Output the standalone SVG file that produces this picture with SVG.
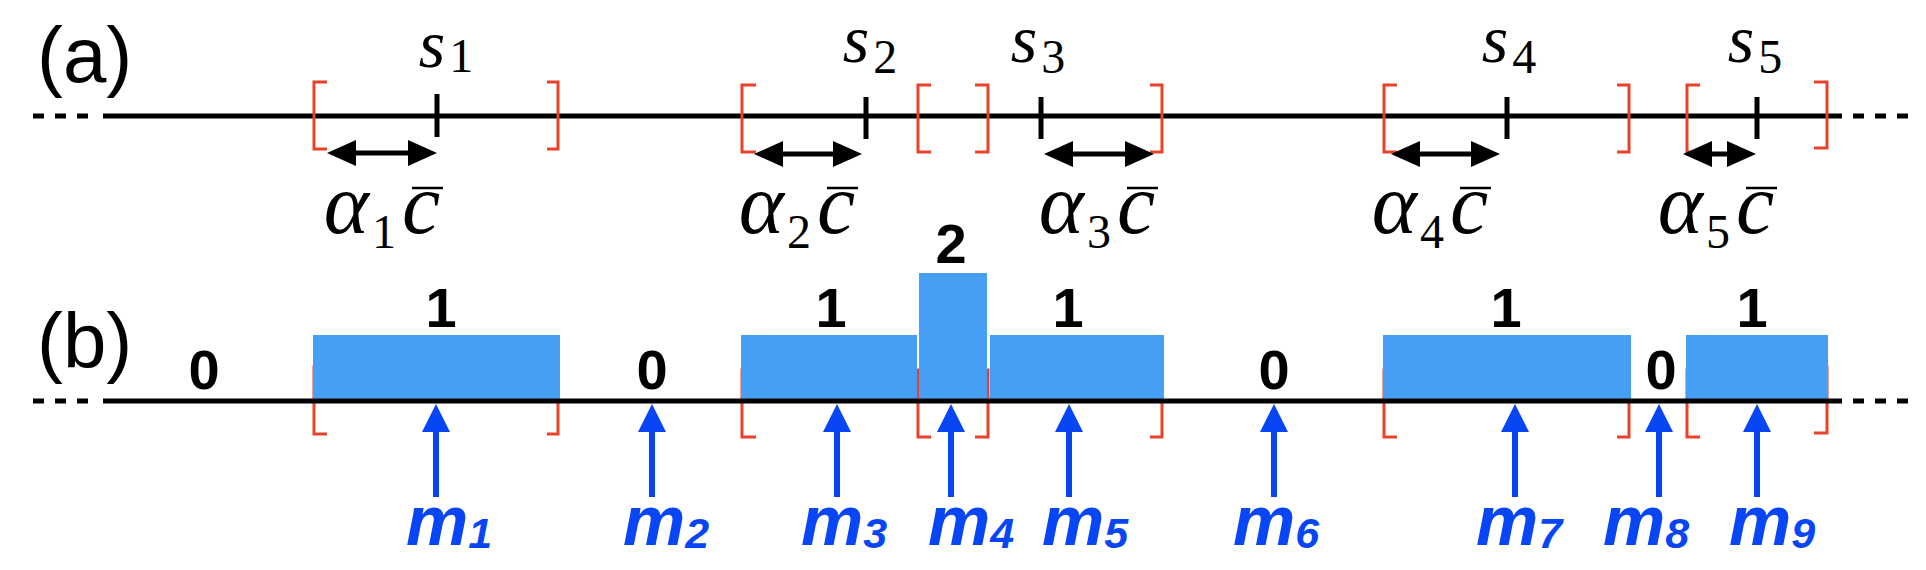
<svg xmlns="http://www.w3.org/2000/svg" width="1926" height="570" viewBox="0 0 1926 570">
<style>
.axis{stroke:#000;stroke-width:5;fill:none}
.dash{stroke:#000;stroke-width:5;stroke-dasharray:11 11;fill:none}
.tick{stroke:#000;stroke-width:5}
.br{stroke:#e8432a;stroke-width:3;fill:none}
.dbl{stroke:#000;stroke-width:5;marker-start:url(#ah);marker-end:url(#ah)}
.up{stroke:#0845f5;stroke-width:6;marker-end:url(#bh)}
.box{fill:#45a0f5}
.panel{font-family:"Liberation Sans",Arial,sans-serif;font-size:78px;fill:#000}
.s{font-family:"Liberation Serif","Times New Roman",serif;font-style:italic;font-size:68px;fill:#000}
.al{font-family:"Liberation Serif","Times New Roman",serif;font-style:italic;font-size:86px;fill:#000}
.sub{font-style:normal;font-size:48px}
.num{font-family:"Liberation Sans",Arial,sans-serif;font-weight:bold;font-size:56px;fill:#000;text-anchor:middle}
.m{font-family:"Liberation Sans",Arial,sans-serif;font-weight:bold;font-style:italic;font-size:70px;fill:#0845f5}
.msub{font-size:43px}
.bar{stroke:#000;stroke-width:2.5}
</style>
<defs>
<marker id="ah" markerUnits="userSpaceOnUse" markerWidth="30" markerHeight="28" viewBox="0 -14 30 28" refX="9" refY="0" orient="auto-start-reverse"><path d="M0,-13 L29,0 L0,13 z" fill="#000"/></marker>
<marker id="bh" markerUnits="userSpaceOnUse" markerWidth="30" markerHeight="30" viewBox="0 -15 30 30" refX="8" refY="0" orient="auto"><path d="M0,-14 L28,0 L0,14 z" fill="#0845f5"/></marker>
</defs>

<g id="panel-a">
  <text id="label-a" class="panel" x="37" y="82">(a)</text>
  <g id="axis-a">
    <line class="dash" x1="33" y1="116" x2="92" y2="116"/>
    <line class="axis" x1="103" y1="116" x2="1842" y2="116"/>
    <line class="dash" x1="1853" y1="116" x2="1908" y2="116"/>
  </g>
  <g id="node-s1">
    <path class="br" d="M327,82 H314 V149 H327"/>
    <path class="br" d="M547,82 H558 V149 H547"/>
    <line class="tick" x1="437" y1="94" x2="437" y2="137"/>
    <text class="s" x="446" y="67" text-anchor="middle">s<tspan class="sub" dx="4" dy="5">1</tspan></text>
    <text class="al" x="382" y="233" text-anchor="middle">α<tspan class="sub" dx="3" dy="15">1</tspan><tspan dx="6" dy="-15">c</tspan></text>
    <line class="bar" x1="412" y1="188" x2="443" y2="188"/>
  </g>
  <g id="node-s2">
    <path class="br" d="M756,85 H742 V152 H756"/>
    <path class="br" d="M975,85 H988 V152 H975"/>
    <line class="tick" x1="866" y1="97" x2="866" y2="139"/>
    <text class="s" x="870" y="62" text-anchor="middle">s<tspan class="sub" dx="4" dy="11">2</tspan></text>
    <text class="al" x="797" y="233" text-anchor="middle">α<tspan class="sub" dx="3" dy="15">2</tspan><tspan dx="6" dy="-15">c</tspan></text>
    <line class="bar" x1="827" y1="188" x2="858" y2="188"/>
  </g>
  <g id="node-s3">
    <path class="br" d="M931,85 H918 V152 H931"/>
    <path class="br" d="M1150,85 H1162 V152 H1150"/>
    <line class="tick" x1="1041" y1="97" x2="1041" y2="139"/>
    <text class="s" x="1038" y="62" text-anchor="middle">s<tspan class="sub" dx="4" dy="11">3</tspan></text>
    <text class="al" x="1097" y="233" text-anchor="middle">α<tspan class="sub" dx="3" dy="15">3</tspan><tspan dx="6" dy="-15">c</tspan></text>
    <line class="bar" x1="1127" y1="188" x2="1158" y2="188"/>
  </g>
  <g id="node-s4">
    <path class="br" d="M1397,85 H1384 V152 H1397"/>
    <path class="br" d="M1617,85 H1629 V152 H1617"/>
    <line class="tick" x1="1507" y1="97" x2="1507" y2="139"/>
    <text class="s" x="1509" y="62" text-anchor="middle">s<tspan class="sub" dx="4" dy="11">4</tspan></text>
    <text class="al" x="1430" y="233" text-anchor="middle">α<tspan class="sub" dx="3" dy="15">4</tspan><tspan dx="6" dy="-15">c</tspan></text>
    <line class="bar" x1="1460" y1="188" x2="1491" y2="188"/>
  </g>
  <g id="node-s5">
    <path class="br" d="M1700,85 H1687 V152 H1700"/>
    <path class="br" d="M1814,82 H1827 V148 H1814"/>
    <line class="tick" x1="1757" y1="97" x2="1757" y2="139"/>
    <text class="s" x="1755" y="62" text-anchor="middle">s<tspan class="sub" dx="4" dy="11">5</tspan></text>
    <text class="al" x="1716" y="233" text-anchor="middle">α<tspan class="sub" dx="3" dy="15">5</tspan><tspan dx="6" dy="-15">c</tspan></text>
    <line class="bar" x1="1746" y1="188" x2="1777" y2="188"/>
  </g>
</g>

<g id="panel-b">
  <text id="label-b" class="panel" x="37" y="368">(b)</text>
  <g id="brackets-b">
    <path class="br" d="M327,367 H314 V434 H327"/>
    <path class="br" d="M547,367 H558 V434 H547"/>
    <path class="br" d="M756,370 H742 V437 H756"/>
    <path class="br" d="M975,370 H988 V437 H975"/>
    <path class="br" d="M931,370 H918 V437 H931"/>
    <path class="br" d="M1150,370 H1162 V437 H1150"/>
    <path class="br" d="M1397,370 H1384 V437 H1397"/>
    <path class="br" d="M1617,370 H1629 V437 H1617"/>
    <path class="br" d="M1700,370 H1687 V437 H1700"/>
    <path class="br" d="M1814,367 H1827 V433 H1814"/>
  </g>
  <g id="node-box1"><rect class="box" x="313" y="335" width="247" height="64"/><text class="num" x="441" y="327">1</text></g>
  <g id="node-box3"><rect class="box" x="741" y="335" width="176" height="64"/><text class="num" x="831" y="327">1</text></g>
  <g id="node-box4"><rect class="box" x="919" y="273" width="68" height="126"/><text class="num" x="951" y="263">2</text></g>
  <g id="node-box5"><rect class="box" x="990" y="335" width="174" height="64"/><text class="num" x="1068" y="327">1</text></g>
  <g id="node-box7"><rect class="box" x="1383" y="335" width="248" height="64"/><text class="num" x="1506" y="327">1</text></g>
  <g id="node-box9"><rect class="box" x="1686" y="335" width="142" height="64"/><text class="num" x="1752" y="327">1</text></g>
  <g id="zeros">
    <text class="num" x="204" y="389">0</text>
    <text class="num" x="652" y="389">0</text>
    <text class="num" x="1274" y="389">0</text>
    <text class="num" x="1661" y="389">0</text>
  </g>
  <g id="axis-b">
    <line class="dash" x1="33" y1="401" x2="92" y2="401"/>
    <line class="axis" x1="103" y1="401" x2="1842" y2="401"/>
    <line class="dash" x1="1853" y1="401" x2="1908" y2="401"/>
  </g>
  <g id="m-labels">
    <text class="m" x="406" y="545">m<tspan class="msub" dy="3">1</tspan></text>
    <text class="m" x="623" y="545">m<tspan class="msub" dy="3">2</tspan></text>
    <text class="m" x="801" y="545">m<tspan class="msub" dy="3">3</tspan></text>
    <text class="m" x="928" y="545">m<tspan class="msub" dy="3">4</tspan></text>
    <text class="m" x="1042" y="545">m<tspan class="msub" dy="3">5</tspan></text>
    <text class="m" x="1233" y="545">m<tspan class="msub" dy="3">6</tspan></text>
    <text class="m" x="1476" y="545">m<tspan class="msub" dy="3">7</tspan></text>
    <text class="m" x="1603" y="545">m<tspan class="msub" dy="3">8</tspan></text>
    <text class="m" x="1729" y="545">m<tspan class="msub" dy="3">9</tspan></text>
  </g>
</g>

<g id="connectors">
  <line class="dbl" x1="347" y1="153" x2="417" y2="153"/>
  <line class="dbl" x1="774" y1="154" x2="842" y2="154"/>
  <line class="dbl" x1="1064" y1="154" x2="1134" y2="154"/>
  <line class="dbl" x1="1411" y1="154" x2="1480" y2="154"/>
  <line class="dbl" x1="1703" y1="154" x2="1736" y2="154"/>
  <line class="up" x1="436" y1="497" x2="436" y2="424"/>
  <line class="up" x1="652" y1="497" x2="652" y2="424"/>
  <line class="up" x1="837" y1="497" x2="837" y2="424"/>
  <line class="up" x1="951" y1="497" x2="951" y2="424"/>
  <line class="up" x1="1069" y1="497" x2="1069" y2="424"/>
  <line class="up" x1="1274" y1="497" x2="1274" y2="424"/>
  <line class="up" x1="1515" y1="497" x2="1515" y2="424"/>
  <line class="up" x1="1659" y1="497" x2="1659" y2="424"/>
  <line class="up" x1="1757" y1="497" x2="1757" y2="424"/>
</g>
</svg>
